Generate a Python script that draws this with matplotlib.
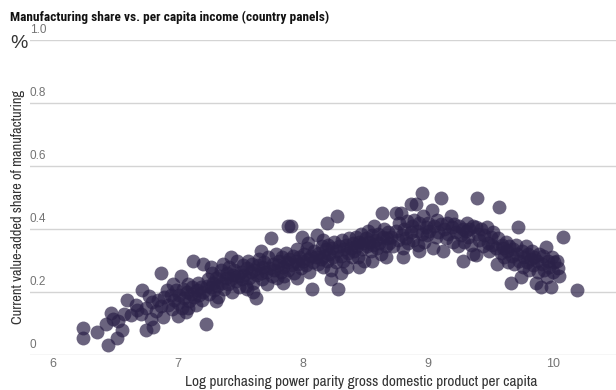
import matplotlib

matplotlib.use("Agg")
import matplotlib.pyplot as plt
from matplotlib import font_manager

# ---- data: (log PPP GDP per capita, manufacturing share) -------------------
POINTS = [
    # 6.2 - 6.6
    (6.24, 0.054), (6.24, 0.086), (6.35, 0.073), (6.44, 0.032), (6.51, 0.054),
    (6.55, 0.079), (6.42, 0.100), (6.46, 0.133), (6.48, 0.115), (6.52, 0.108),
    (6.57, 0.130),
    # 6.6 - 6.9
    (6.59, 0.175), (6.62, 0.127), (6.67, 0.143), (6.71, 0.206), (6.74, 0.079),
    (6.80, 0.089), (6.79, 0.168), (6.86, 0.260), (6.91, 0.206), (6.66, 0.160),
    (6.70, 0.130), (6.74, 0.150), (6.77, 0.187), (6.82, 0.140), (6.84, 0.175),
    (6.88, 0.120), (6.86, 0.155), (6.89, 0.185), (6.78, 0.115),
    # 6.9 - 7.2
    (6.92, 0.160), (6.94, 0.190), (6.95, 0.145), (6.97, 0.175), (6.98, 0.205),
    (7.00, 0.165), (7.01, 0.190), (7.02, 0.250), (7.03, 0.150), (7.04, 0.210),
    (7.05, 0.180), (7.06, 0.135), (7.07, 0.200), (7.08, 0.225), (7.09, 0.170),
    (7.10, 0.195), (7.11, 0.215), (7.12, 0.300), (7.13, 0.185), (7.14, 0.160),
    (7.15, 0.205), (7.16, 0.230), (7.17, 0.190), (7.18, 0.215), (7.19, 0.175),
    (7.20, 0.290), (7.20, 0.200), (7.22, 0.100), (7.23, 0.220), (6.96, 0.225),
    (7.00, 0.125), (7.08, 0.150),
    # 7.2 - 7.5
    (7.24, 0.240), (7.25, 0.195), (7.26, 0.215), (7.27, 0.260), (7.28, 0.230),
    (7.29, 0.205), (7.30, 0.245), (7.31, 0.220), (7.32, 0.185), (7.33, 0.250),
    (7.34, 0.270), (7.35, 0.230), (7.36, 0.290), (7.37, 0.210), (7.38, 0.245),
    (7.39, 0.260), (7.40, 0.225), (7.41, 0.280), (7.42, 0.240), (7.43, 0.200),
    (7.44, 0.255), (7.45, 0.270), (7.46, 0.235), (7.47, 0.300), (7.48, 0.250),
    (7.49, 0.215), (7.30, 0.170), (7.42, 0.310), (7.26, 0.280),
    # 7.5 - 7.8
    (7.50, 0.265), (7.51, 0.240), (7.52, 0.285), (7.53, 0.255), (7.54, 0.220),
    (7.55, 0.275), (7.56, 0.300), (7.57, 0.245), (7.58, 0.265), (7.59, 0.290),
    (7.60, 0.230), (7.61, 0.270), (7.62, 0.180), (7.63, 0.255), (7.64, 0.285),
    (7.65, 0.305), (7.66, 0.260), (7.67, 0.240), (7.68, 0.280), (7.69, 0.295),
    (7.70, 0.265), (7.71, 0.225), (7.72, 0.310), (7.73, 0.275), (7.74, 0.370),
    (7.75, 0.250), (7.76, 0.290), (7.77, 0.270), (7.78, 0.320), (7.79, 0.245),
    (7.55, 0.210), (7.66, 0.330), (7.60, 0.200),
    # 7.8 - 8.1
    (7.80, 0.285), (7.81, 0.300), (7.82, 0.265), (7.83, 0.310), (7.84, 0.280),
    (7.85, 0.250), (7.86, 0.325), (7.87, 0.295), (7.88, 0.410), (7.88, 0.270),
    (7.89, 0.305), (7.90, 0.410), (7.91, 0.285), (7.92, 0.315), (7.93, 0.260),
    (7.94, 0.300), (7.95, 0.335), (7.96, 0.290), (7.97, 0.310), (7.98, 0.275),
    (7.99, 0.375), (8.00, 0.300), (8.01, 0.320), (8.02, 0.285), (8.03, 0.340),
    (8.04, 0.305), (8.05, 0.265), (8.06, 0.315), (8.07, 0.210), (8.08, 0.295),
    (8.09, 0.330), (8.10, 0.310), (8.11, 0.380), (7.84, 0.230), (7.95, 0.245),
    (8.04, 0.355),
    # 8.1 - 8.4
    (8.12, 0.290), (8.13, 0.325), (8.14, 0.305), (8.15, 0.345), (8.16, 0.280),
    (8.17, 0.315), (8.18, 0.335), (8.19, 0.420), (8.19, 0.300), (8.20, 0.350),
    (8.21, 0.320), (8.22, 0.270), (8.23, 0.340), (8.24, 0.310), (8.25, 0.360),
    (8.26, 0.295), (8.27, 0.440), (8.27, 0.330), (8.28, 0.210), (8.29, 0.345),
    (8.30, 0.315), (8.31, 0.365), (8.32, 0.300), (8.33, 0.335), (8.34, 0.350),
    (8.35, 0.280), (8.36, 0.325), (8.37, 0.370), (8.38, 0.340), (8.39, 0.310),
    (8.22, 0.240), (8.30, 0.260), (8.16, 0.365),
    # 8.4 - 8.7
    (8.40, 0.355), (8.41, 0.330), (8.42, 0.375), (8.43, 0.345), (8.44, 0.310),
    (8.45, 0.360), (8.46, 0.385), (8.47, 0.335), (8.48, 0.355), (8.49, 0.300),
    (8.50, 0.370), (8.51, 0.345), (8.52, 0.395), (8.53, 0.360), (8.54, 0.330),
    (8.55, 0.380), (8.56, 0.350), (8.57, 0.410), (8.58, 0.365), (8.59, 0.340),
    (8.60, 0.385), (8.61, 0.355), (8.62, 0.320), (8.63, 0.450), (8.64, 0.375),
    (8.65, 0.400), (8.66, 0.345), (8.67, 0.370), (8.68, 0.390), (8.69, 0.355),
    (8.45, 0.280), (8.55, 0.300), (8.66, 0.310),
    # 8.7 - 9.0
    (8.70, 0.375), (8.72, 0.345), (8.74, 0.450), (8.74, 0.395), (8.76, 0.365),
    (8.77, 0.420), (8.78, 0.450), (8.79, 0.380), (8.80, 0.340), (8.81, 0.400),
    (8.82, 0.370), (8.83, 0.425), (8.84, 0.355), (8.86, 0.480), (8.86, 0.390),
    (8.87, 0.410), (8.88, 0.365), (8.89, 0.430), (8.90, 0.480), (8.91, 0.395),
    (8.92, 0.350), (8.93, 0.420), (8.95, 0.514), (8.95, 0.385), (8.96, 0.440),
    (8.97, 0.360), (8.98, 0.405), (8.99, 0.380), (8.80, 0.310), (8.93, 0.330),
    # 9.0 - 9.3
    (9.00, 0.420), (9.01, 0.395), (9.03, 0.460), (9.04, 0.340), (9.05, 0.410),
    (9.06, 0.375), (9.07, 0.430), (9.08, 0.390), (9.10, 0.500), (9.10, 0.415),
    (9.12, 0.330), (9.13, 0.400), (9.14, 0.370), (9.15, 0.420), (9.16, 0.385),
    (9.18, 0.440), (9.19, 0.405), (9.20, 0.360), (9.21, 0.415), (9.22, 0.390),
    (9.24, 0.345), (9.25, 0.410), (9.26, 0.380), (9.28, 0.300), (9.28, 0.400),
    (9.29, 0.360),
    # 9.3 - 9.6
    (9.30, 0.395), (9.31, 0.420), (9.32, 0.375), (9.33, 0.400), (9.34, 0.350),
    (9.36, 0.320), (9.36, 0.410), (9.38, 0.406), (9.38, 0.317), (9.39, 0.500),
    (9.40, 0.385), (9.41, 0.365), (9.42, 0.400), (9.44, 0.345), (9.45, 0.380),
    (9.47, 0.406), (9.48, 0.355), (9.49, 0.330), (9.50, 0.375), (9.51, 0.350),
    (9.52, 0.390), (9.54, 0.340), (9.55, 0.290), (9.56, 0.370), (9.57, 0.470),
    (9.58, 0.325), (9.59, 0.350),
    # 9.6 - 9.9
    (9.60, 0.340), (9.61, 0.310), (9.62, 0.360), (9.63, 0.330), (9.64, 0.295),
    (9.65, 0.345), (9.66, 0.230), (9.67, 0.315), (9.68, 0.335), (9.69, 0.290),
    (9.70, 0.350), (9.71, 0.320), (9.72, 0.406), (9.73, 0.300), (9.74, 0.248),
    (9.75, 0.330), (9.76, 0.280), (9.77, 0.310), (9.78, 0.345), (9.79, 0.295),
    (9.80, 0.320), (9.81, 0.270), (9.82, 0.305), (9.83, 0.330), (9.84, 0.285),
    (9.85, 0.310), (9.86, 0.229), (9.87, 0.300), (9.88, 0.265), (9.89, 0.320),
    # 9.9 - 10.2
    (9.90, 0.216), (9.91, 0.290), (9.92, 0.315), (9.93, 0.270), (9.94, 0.343),
    (9.95, 0.248), (9.96, 0.300), (9.97, 0.280), (9.98, 0.216), (9.99, 0.310),
    (10.00, 0.265), (10.01, 0.295), (10.03, 0.300), (10.04, 0.276), (10.05, 0.250),
    (10.08, 0.375), (10.19, 0.206),
]
log_gdp = [p[0] for p in POINTS]
manuf_share = [p[1] for p in POINTS]

X_TICKS = [6, 7, 8, 9, 10]
Y_TICKS = [0, 0.2, 0.4, 0.6, 0.8, 1.0]
Y_LABELS = ["0", "0.2", "0.4", "0.6", "0.8", "1.0"]

DOT = "#2b2148"
GRID = "#d4d4d4"
LABEL = "#737373"
TEXT = "#333333"

# pick installed faces: a narrow grotesque for text, one with a real bold
fonts = font_manager.fontManager.ttflist


def has(name, bold=False):
    for f in fonts:
        if f.name == name:
            w = f.weight if isinstance(f.weight, int) else (700 if "bold" in str(f.weight) else 400)
            if not bold or w >= 600:
                return True
    return False


def pick(cands, bold=False):
    for c in cands:
        if has(c, bold):
            return c
    return "DejaVu Sans"


BODY = pick(["Archivo Narrow", "PT Sans Narrow", "Roboto Condensed", "Liberation Sans"])
TITLE = pick(["Archivo Narrow", "Roboto Condensed", "PT Sans Narrow",
              "Fira Sans Condensed", "IBM Plex Sans Condensed", "Asap Condensed",
              "Barlow Semi Condensed", "Liberation Sans"], bold=True)
TICK = pick(["Liberation Sans", "Noto Sans"])
plt.rcParams["font.family"] = [BODY, "DejaVu Sans"]

fig = plt.figure(figsize=(6.16, 3.90), dpi=100)
ax = fig.add_axes([30 / 616, 35 / 390, 586 / 616, 315 / 390])

ax.scatter(log_gdp, manuf_share, s=100, color=DOT, alpha=0.7, linewidths=0,
           zorder=3)

ax.set_xlim(5.816, 10.504)
ax.set_ylim(0, 1.0)

for sp in ax.spines.values():
    sp.set_visible(False)
ax.set_yticks(Y_TICKS)
ax.yaxis.grid(True, color=GRID, lw=1.0)
ax.set_axisbelow(True)
ax.tick_params(axis="y", length=0, labelleft=False)
for y, lab in zip(Y_TICKS, Y_LABELS):
    ax.text(0.0, y + 0.014, lab, transform=ax.get_yaxis_transform(),
            ha="left", va="bottom", fontsize=8.5, color=LABEL,
            family=[TICK, "DejaVu Sans"])

ax.set_xticks(X_TICKS)
ax.set_xticklabels([str(t) for t in X_TICKS], family=[TICK, "DejaVu Sans"])
ax.tick_params(axis="x", length=0, pad=2, labelsize=9, labelcolor=LABEL)

ax.set_xlabel("Log purchasing power parity gross domestic product per capita",
              fontsize=11, color=TEXT)
ax.xaxis.set_label_coords(0.565, -0.062)

fig.text(18 / 616, 1 - 207 / 390, "Current value-added share of manufacturing",
         rotation=90, ha="center", va="center", fontsize=10.4, color=TEXT)
fig.text(10 / 616, 1 - 43 / 390, "%", ha="left", va="center", fontsize=14,
         color=TEXT, family=[TICK, "DejaVu Sans"])
fig.text(10 / 616, 1 - 17 / 390,
         "Manufacturing share vs. per capita income (country panels)",
         ha="left", va="center", fontsize=9.6, fontweight="bold", color="#111111",
         family=[TITLE, "DejaVu Sans"])

fig.savefig("out.png", dpi=100)
